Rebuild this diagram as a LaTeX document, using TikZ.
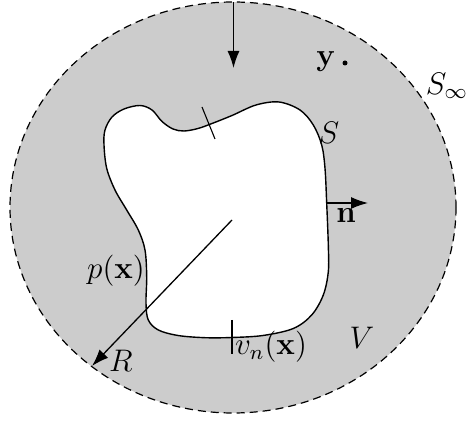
\documentclass[tikz,border=0pt]{standalone}
\usepackage{graphicx}
\usetikzlibrary{arrows.meta}
\newcommand{\biglbl}[1]{\scalebox{1.3}{#1}}
\tikzset{
  lbl/.style={inner sep=0pt, font=\large},
  outline/.style={line width=0.7pt},
  arr/.style={line width=0.65pt, -{Latex[length=8.5pt,width=6pt]}},
  tick/.style={line width=0.55pt}
}
\begin{document}
\begin{tikzpicture}[x=0.5pt,y=-0.5pt]
\useasboundingbox (0,0) rectangle (466,421);
% outer region
\fill[white!80!black] (233,207.5) ellipse [x radius=223, y radius=205.5];
\draw[dashed, line width=0.6pt, dash pattern=on 4pt off 2.5pt] (233,207.5) ellipse [x radius=223, y radius=205.5];
% inner body
\draw[outline, fill=white] plot[smooth cycle, tension=0.55] coordinates {
 (104,145) (105,130) (112,117) (124,109) (140,105.5) (152,110) (162,121.5)
 (173,129) (184,131) (198,128.5) (212,123.5) (232,115.5) (256,105) (279,102)
 (300,110) (313.3,125) (321.7,145) (325,168.3) (326.7,203.3) (328.3,245)
 (328.3,271.7) (323.3,295) (311.7,315) (293.3,328.5) (263,335.5) (232,337.5)
 (205,337.7) (178,335.5) (158.3,330) (148.3,320) (146,303.3) (146.7,276.7)
 (145,250) (138.3,230) (126.7,210) (115,190) (106.7,168.3)};
% coordinates
\coordinate (top) at (233.5,2);
\coordinate (toptip) at (233.5,68);
\coordinate (c) at (232,220);
\coordinate (rend) at (92,366);
\coordinate (nstart) at (327,203);
\coordinate (nend) at (368,203);
\coordinate (t1a) at (202,107);
\coordinate (t1b) at (215,139);
\coordinate (t2a) at (232,320);
\coordinate (t2b) at (232,354);
% arrows
\draw[arr] (top) -- (toptip);
\draw[arr] (c) -- (rend);
\draw[arr] (nstart) -- (nend);
% ticks
\draw[tick] (t1a) -- (t1b);
\draw[tick] (t2a) -- (t2b);
% point y
\fill (345,63) circle (2.5);
% labels
\node[lbl] (ly) at (326,62) {\biglbl{$\mathbf{y}$}};
\node[lbl] (lSinf) at (447,86) {\biglbl{$S_\infty$}};
\node[lbl] (lS) at (329,133) {\biglbl{$S$}};
\node[lbl] (ln) at (346,216) {\biglbl{$\mathbf{n}$}};
\node[lbl] (lp) at (116,271) {\biglbl{$p(\mathbf{x})$}};
\node[lbl] (lv) at (271,347) {\biglbl{$v_n(\mathbf{x})$}};
\node[lbl] (lR) at (121,361) {\biglbl{$R$}};
\node[lbl] (lV) at (362,338) {\biglbl{$V$}};
\end{tikzpicture}
\end{document}
